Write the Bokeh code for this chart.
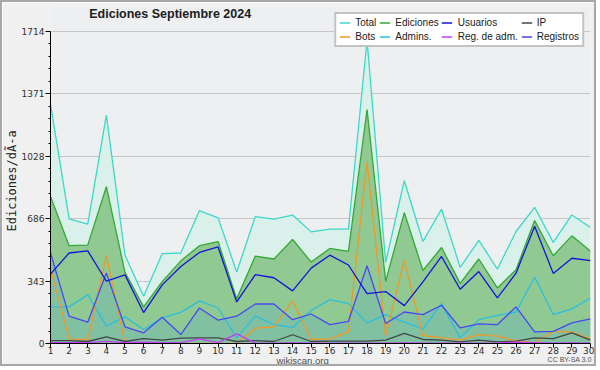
import numpy as np
from bokeh.plotting import figure
from bokeh.models import (ColumnDataSource, Range1d, FixedTicker, Legend, LegendItem, Label,
                          Title, LinearAxis)
from bokeh.embed import file_html
from bokeh.resources import INLINE

# ---------------- data ----------------
days = list(range(1, 31))
total = [1314, 684, 655, 1254, 484, 259, 493, 497, 730, 690, 393, 697, 683, 705, 613,
         628, 628, 1665, 445, 894, 560, 738, 418, 566, 409, 615, 748, 555, 706, 637]
ediciones = [807, 537, 540, 861, 391, 201, 340, 454, 537, 560, 245, 480, 464, 571, 447,
             522, 506, 1285, 341, 719, 401, 527, 330, 464, 305, 405, 675, 482, 591, 506]
usuarios = [381, 497, 509, 342, 377, 170, 322, 423, 500, 530, 228, 378, 361, 289, 414,
            485, 431, 274, 285, 208, 338, 478, 298, 395, 250, 386, 644, 385, 468, 455]
ip = [16, 16, 11, 37, 11, 27, 18, 29, 31, 31, 11, 16, 11, 48, 11,
      13, 13, 13, 18, 55, 22, 18, 9, 18, 9, 13, 31, 27, 58, 18]
bots = [411, 25, 20, 484, 5, 0, 0, 0, 0, 0, 0, 84, 91, 235, 22,
        25, 64, 998, 40, 456, 44, 31, 18, 49, 40, 13, 4, 67, 62, 26]
admins = [201, 201, 268, 95, 146, 77, 141, 171, 234, 195, 31, 150, 104, 88, 181,
          241, 219, 113, 159, 117, 80, 219, 31, 131, 155, 173, 365, 159, 190, 250]
reg_adm = [5, 5, 5, 12, 5, 8, 5, 5, 25, 5, 53, 2, 2, 3, 2,
           2, 2, 2, 2, 3, 2, 2, 2, 2, 3, 8, 5, 2, 3, 2]
registros = [498, 150, 117, 387, 91, 59, 144, 49, 195, 128, 150, 217, 217, 131, 162,
             104, 122, 427, 110, 173, 159, 210, 86, 108, 104, 201, 64, 67, 113, 135]
y_ticks = [0, 343, 686, 1028, 1371, 1714]
y_max = 1714

src = ColumnDataSource(dict(day=days, total=total, ediciones=ediciones, usuarios=usuarios,
                            ip=ip, bots=bots, admins=admins, reg_adm=reg_adm,
                            registros=registros, zero=[0] * len(days)))

# ---------------- layout (figure pixel coords) ----------------
W, H = 596, 366
L, R, T, B = 44, 8, 4, 23
Y0_PX, YMAX_PX = H - B, 29          # pixel rows of 0 and of y_max
ppu = (Y0_PX - YMAX_PX) / y_max     # px per unit
ppx = (W - L - R) / (days[-1] - days[0])
y_end = (H - B - T) / ppu


def fx(px):
    return round(days[0] + (px - L) / ppx, 2)


def fy(py):
    return (Y0_PX - py) / ppu


p = figure(width=W, height=H, output_backend="svg", toolbar_location=None,
           x_range=Range1d(days[0], days[-1]), y_range=Range1d(0, y_end),
           min_border_left=L, min_border_right=R, min_border_top=T, min_border_bottom=B)
p.title.text = ""
p.background_fill_color = "#eeeff1"
p.border_fill_color = "#f0f0f0"
p.outline_line_color = None
p.styles = {"border": "2px solid #a8a8a8"}

# axes
p.xaxis.ticker = FixedTicker(ticks=days)
p.xaxis.bounds = (days[0], days[-1])
p.xaxis.major_tick_out = 4
p.xaxis.major_tick_in = 0
p.xaxis.minor_tick_out = 0
p.xaxis.major_label_standoff = -1
p.xaxis.major_label_text_font = "DejaVu Sans"
p.xaxis.major_label_text_font_size = "9px"
p.xaxis.major_label_text_color = "#303030"
p.xaxis.axis_line_color = "black"

# footer texts on bare extra axes, both on one line below the day labels
wk_pos = fx(298)
wk_axis = LinearAxis(ticker=FixedTicker(ticks=[wk_pos]),
                     major_label_overrides={wk_pos: "wikiscan.org"},
                     axis_line_color=None, major_tick_line_color=None,
                     minor_tick_line_color=None, major_tick_out=0, major_tick_in=0,
                     major_label_standoff=-2, major_label_text_font="Liberation Sans",
                     major_label_text_font_size="9.5px", major_label_text_color="#505050")
p.add_layout(wk_axis, "below")

cc_pos = fx(567)
cc_axis = LinearAxis(ticker=FixedTicker(ticks=[cc_pos]),
                     major_label_overrides={cc_pos: "CC BY-SA 3.0"},
                     axis_line_color=None, major_tick_line_color=None,
                     minor_tick_line_color=None, major_tick_out=0, major_tick_in=0,
                     major_label_standoff=-13, major_label_text_font="Liberation Sans",
                     major_label_text_font_size="7px", major_label_text_color="#505050")
p.add_layout(cc_axis, "below")

minor = []
for a, b in zip(y_ticks[:-1], y_ticks[1:]):
    minor += list(np.linspace(a, b, 6)[1:-1])
p.yaxis.ticker = FixedTicker(ticks=y_ticks, minor_ticks=minor)
p.yaxis.bounds = (0, y_max)
p.yaxis.major_tick_out = 5
p.yaxis.major_tick_in = 0
p.yaxis.minor_tick_out = 2
p.yaxis.minor_tick_in = 0
p.yaxis.major_label_standoff = 1
p.yaxis.major_label_text_font = "DejaVu Sans"
p.yaxis.major_label_text_font_size = "9px"
p.yaxis.major_label_text_color = "#303030"
p.yaxis.axis_line_color = "black"

p.xgrid.visible = False
p.ygrid.grid_line_color = "#c6c6c8"

# y label as a left title
p.add_layout(Title(text="Ediciones/dÃ-a", align="left", offset=112, standoff=0,
                   text_font="DejaVu Sans Mono", text_font_style="normal",
                   text_font_size="12px", text_color="#202020"), "left")

# areas
p.varea(x="day", y1="zero", y2="total", source=src, fill_color="#d9f1ea")
p.varea(x="day", y1="zero", y2="ediciones", source=src, fill_color="#90c992")
p.varea(x="day", y1="zero", y2="registros", source=src, fill_color="#82c0a2")

# lines
lw = 1.3
r_total = p.line("day", "total", source=src, line_color="#3cd8c8", line_width=lw)
r_ed = p.line("day", "ediciones", source=src, line_color="#34a834", line_width=lw)
r_adm = p.line("day", "admins", source=src, line_color="#28c0e0", line_width=lw)
r_bots = p.line("day", "bots", source=src, line_color="#f09828", line_width=lw)
r_reg = p.line("day", "registros", source=src, line_color="#4848f0", line_width=lw)
r_us = p.line("day", "usuarios", source=src, line_color="#1414d8", line_width=lw)
r_ip = p.line("day", "ip", source=src, line_color="#404848", line_width=lw)
r_radm = p.line("day", "reg_adm", source=src, line_color="#c040f0", line_width=lw)

legend = Legend(items=[
    LegendItem(label="Total", renderers=[r_total]),
    LegendItem(label="Ediciones", renderers=[r_ed]),
    LegendItem(label="Usuarios", renderers=[r_us]),
    LegendItem(label="IP", renderers=[r_ip]),
    LegendItem(label="Bots", renderers=[r_bots]),
    LegendItem(label="Admins.", renderers=[r_adm]),
    LegendItem(label="Reg. de adm.", renderers=[r_radm]),
    LegendItem(label="Registros", renderers=[r_reg]),
], location="top_right", orientation="horizontal", nrows=2)
legend.label_text_font = "Liberation Sans"
legend.label_text_font_size = "10px"
legend.label_text_color = "#202020"
legend.label_height = 11
legend.glyph_height = 11
legend.glyph_width = 11
legend.label_standoff = 5
legend.spacing = 3
legend.padding = 3
legend.margin = 6
legend.background_fill_color = "white"
legend.background_fill_alpha = 1
legend.border_line_color = "#888888"
legend.border_line_width = 2
p.add_layout(legend, "center")

# title inside the (extended) frame
p.add_layout(Label(x=fx(83), y=fy(12), text="Ediciones  Septiembre 2024", text_align="left",
                   text_baseline="middle", text_font="Liberation Sans", text_font_style="bold",
                   text_font_size="12.5px", text_color="#202020"))

open("out.html", "w").write(file_html(p, INLINE))
